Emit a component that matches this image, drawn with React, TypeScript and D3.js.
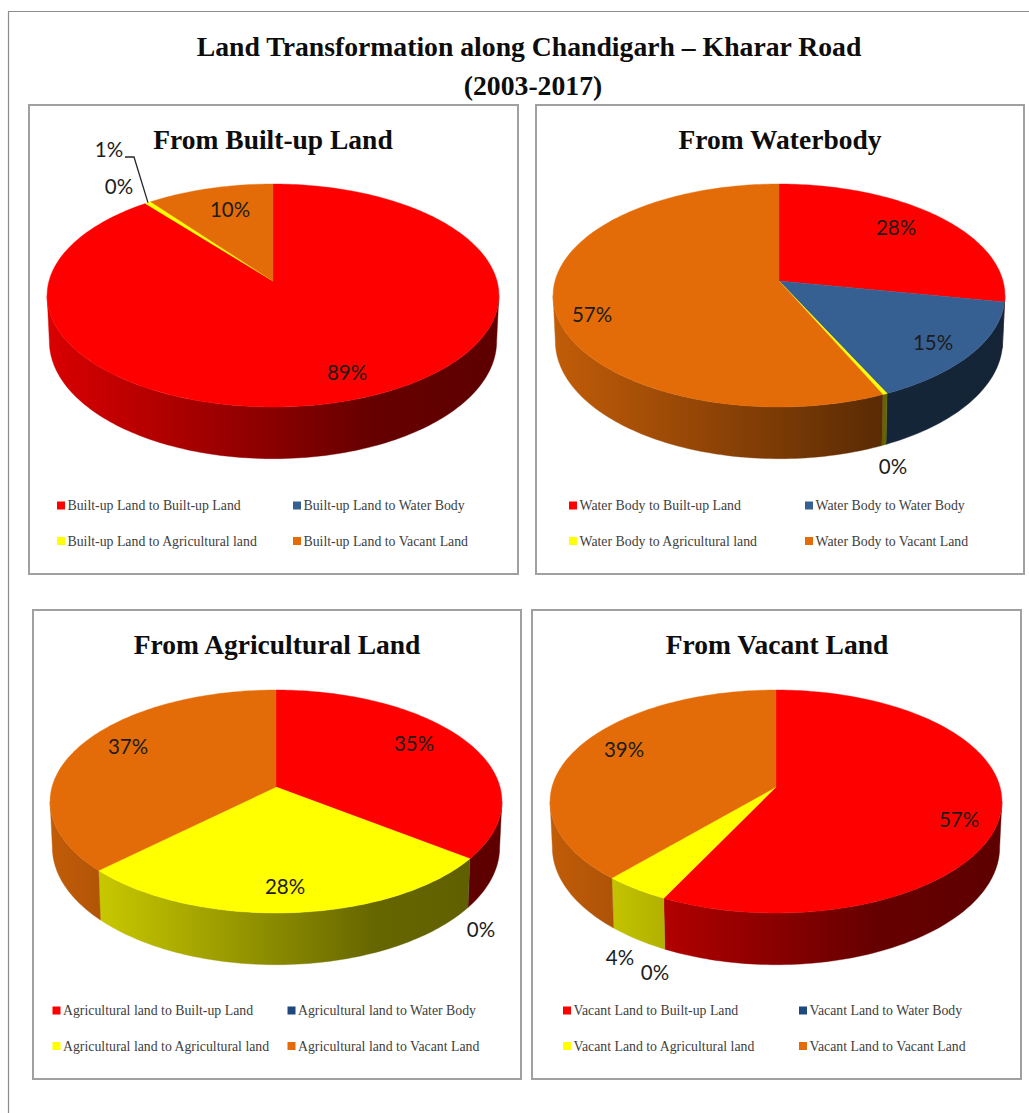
import React, { useEffect, useRef } from "react";
import * as d3 from "d3";

// shares in legend order: built-up, water, agricultural, vacant
const fromBuiltUp = [89.2, 0, 0.5, 10.3];
const fromWater = [28, 15, 0.3, 56.7];
const fromAgri = [35.3, 0, 27.5, 37.2];
const fromVacant = [57.3, 0, 4.2, 38.5];

const titles = ["From Built-up Land", "From Waterbody", "From Agricultural Land", "From Vacant Land"];
const prefixes = ["Built-up Land", "Water Body", "Agricultural land", "Vacant Land"];
const targets = ["Built-up Land", "Water Body", "Agricultural land", "Vacant Land"];
const sliceColors = ["#ff0000", "#376092", "#ffff00", "#e36c09"];

const W = 1029;
const H = 1113;

// panel layout
const panels = [
  { x: 29, y: 105, w: 489, h: 469, cx: 273, cy: 281, titleX: 273, legendX: [57, 293], legendY: [505, 540.5], values: fromBuiltUp, blue: "#376092",
    labels: [[347, 373], [119, 187], [109, 150], [230, 210]] },
  { x: 536, y: 105, w: 488, h: 469, cx: 779, cy: 281, titleX: 780, legendX: [569, 805], legendY: [505, 540.5], values: fromWater, blue: "#376092",
    labels: [[896, 228], [933, 343], [893, 467], [592, 315]] },
  { x: 33, y: 610, w: 488, h: 469, cx: 276, cy: 787, titleX: 277, legendX: [52.5, 287.5], legendY: [1010, 1045.5], values: fromAgri, blue: "#1f497d",
    labels: [[414, 744], [481, 930], [285, 887], [128, 747]] },
  { x: 532, y: 610, w: 489, h: 469, cx: 776, cy: 787, titleX: 777, legendX: [563, 799], legendY: [1010, 1045.5], values: fromVacant, blue: "#1f497d",
    labels: [[959, 820], [655, 973], [620, 958], [624, 750]] },
];

// perspective of the tilted disc
const K = 0.13;
const RX = 224;
const RY = 109.6;
const WALL = 45;

const project = (a: number, drop = 0): [number, number] => {
  const u = Math.sin(a);
  const v = -Math.cos(a);
  const w = 1 - K * v;
  const shrink = drop ? 0.99 : 1;
  return [(RX * shrink * u) / w, (RY * v) / w + (drop ? drop / w : 0)];
};

const arcPoints = (a0: number, a1: number, drop = 0) => {
  const n = Math.max(2, Math.ceil((a1 - a0) / 0.02));
  return d3.range(n + 1).map((i) => project(a0 + ((a1 - a0) * i) / n, drop));
};

const App = () => {
  const ref = useRef<SVGSVGElement>(null);

  useEffect(() => {
    const svg = d3.select(ref.current);
    svg.selectAll("*").remove();
    const defs = svg.append("defs");
    const line = d3.line();
    const pie = d3.pie<number>().sort(null).startAngle(0).endAngle(2 * Math.PI);
    const visibleFrom = Math.acos(-K);
    const visibleTo = 2 * Math.PI - visibleFrom;

    // outer frame (open on the right) and main title
    svg.append("path")
      .attr("d", `M8.5 ${H}V11.5H${W}`)
      .attr("fill", "none")
      .attr("stroke", "#8c8c8c")
      .attr("stroke-width", 1.2);

    const mainTitle = svg.append("text")
      .attr("text-anchor", "middle")
      .attr("font-family", "Liberation Serif")
      .attr("font-weight", "bold")
      .attr("font-size", 27.7)
      .attr("fill", "#0d0d0d");
    mainTitle.append("tspan").attr("x", 529).attr("y", 56).text("Land Transformation along Chandigarh – Kharar Road");
    mainTitle.append("tspan").attr("x", 533).attr("y", 95).text("(2003-2017)");

    panels.forEach((p, pi) => {
      const g = svg.append("g");
      g.append("rect")
        .attr("x", p.x).attr("y", p.y).attr("width", p.w).attr("height", p.h)
        .attr("fill", "#fff").attr("stroke", "#a0a0a0").attr("stroke-width", 2);

      g.append("text")
        .attr("x", p.titleX).attr("y", p.y + 44)
        .attr("text-anchor", "middle")
        .attr("font-family", "Liberation Serif")
        .attr("font-weight", "bold")
        .attr("font-size", 27.5)
        .attr("fill", "#0d0d0d")
        .text(titles[pi]);

      const colors = sliceColors.map((c, i) => (i === 1 ? p.blue : c));
      colors.forEach((c, i) => {
        const base = d3.rgb(c);
        const shade = (f: number) => d3.rgb(base.r * f, base.g * f, base.b * f).formatHex();
        const grad = defs.append("linearGradient")
          .attr("id", `wall-${pi}-${i}`)
          .attr("gradientUnits", "userSpaceOnUse")
          .attr("x1", -RX).attr("x2", RX).attr("y1", 0).attr("y2", 0);
        grad.append("stop").attr("offset", 0).attr("stop-color", shade(0.85));
        grad.append("stop").attr("offset", 0.72).attr("stop-color", shade(0.4));
        grad.append("stop").attr("offset", 1).attr("stop-color", shade(0.37));
      });

      const slices = pie(p.values);
      const disc = g.append("g").attr("transform", `translate(${p.cx},${p.cy})`);

      // side walls, near half of the rim only
      slices.forEach((s, i) => {
        const a0 = Math.max(s.startAngle, visibleFrom);
        const a1 = Math.min(s.endAngle, visibleTo);
        if (a1 <= a0) return;
        const pts = [...arcPoints(a0, a1), ...arcPoints(a0, a1, WALL).reverse()];
        disc.append("path")
          .attr("d", line(pts) + "Z")
          .attr("fill", `url(#wall-${pi}-${i})`)
          .attr("stroke", `url(#wall-${pi}-${i})`)
          .attr("stroke-width", 0.4);
      });

      // top faces
      slices.forEach((s, i) => {
        if (s.endAngle - s.startAngle <= 0) return;
        const pts: [number, number][] = [[0, 0], ...arcPoints(s.startAngle, s.endAngle)];
        disc.append("path")
          .attr("d", line(pts) + "Z")
          .attr("fill", colors[i])
          .attr("stroke", colors[i])
          .attr("stroke-width", 0.4);
      });

      // data labels
      slices.forEach((s, i) => {
        g.append("text")
          .attr("x", p.labels[i][0]).attr("y", p.labels[i][1])
          .attr("dy", "0.36em")
          .attr("text-anchor", "middle")
          .attr("font-family", "Lato")
          .attr("font-size", 20.5)
          .attr("fill", "#1c1c1c")
          .text(`${Math.round(s.value)}%`);
      });

      // leader for the thin slice in the first pie
      if (pi === 0) {
        const s = slices[2];
        const [rx, ry] = project((s.startAngle + s.endAngle) / 2);
        g.append("path")
          .attr("d", line([[125, 157], [134, 157], [p.cx + rx, p.cy + ry]]))
          .attr("fill", "none")
          .attr("stroke", "#262626")
          .attr("stroke-width", 1.3);
      }

      // legend
      targets.forEach((t, i) => {
        const lx = p.legendX[i % 2];
        const ly = p.legendY[Math.floor(i / 2)];
        g.append("rect")
          .attr("x", lx).attr("y", ly - 3.5).attr("width", 8).attr("height", 8)
          .attr("fill", colors[i]);
        g.append("text")
          .attr("x", lx + 10.5).attr("y", ly + 5)
          .attr("font-family", "Liberation Serif")
          .attr("font-size", 13.8)
          .attr("fill", "#404040")
          .text(`${prefixes[pi]} to ${t}`);
      });
    });
  }, []);

  return <svg ref={ref} width={W} height={H} style={{ position: "absolute", left: 0, top: 0, background: "#fff" }} />;
};

export default App;
